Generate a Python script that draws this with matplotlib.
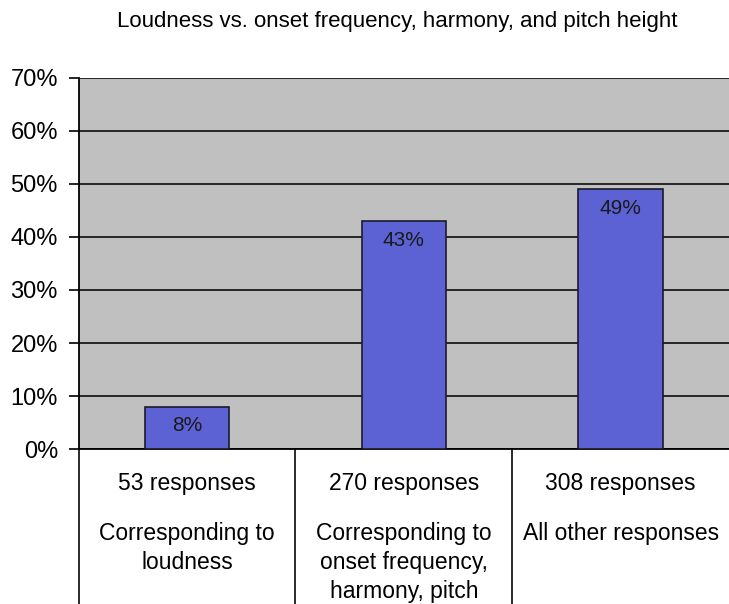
import numpy as np
import matplotlib.pyplot as plt
from matplotlib.ticker import FuncFormatter

plt.rcParams['font.family'] = ['Liberation Sans', 'DejaVu Sans']

title = "Loudness vs. onset frequency, harmony, and pitch height"
counts = ["53 responses", "270 responses", "308 responses"]
descs = ["Corresponding to\nloudness",
         "Corresponding to\nonset frequency,\nharmony, pitch",
         "All other responses"]
values = [8, 43, 49]
labels = ["8%", "43%", "49%"]

fig = plt.figure(figsize=(7.29, 6.04), dpi=100)
ax = fig.add_axes([0.108, 0.2566, 0.892, 0.6143])
ax.set_facecolor('#c0c0c0')

x = np.arange(len(values))
bars = ax.bar(x, values, width=0.39, color='#5c62d4', edgecolor='#1a1a2a', linewidth=1.2, zorder=3)
for b, lab in zip(bars, labels):
    ax.annotate(lab, (b.get_x() + b.get_width() / 2, b.get_height()),
                xytext=(0, -7), textcoords='offset points', ha='center', va='top',
                fontsize=15, color='#1a1a1a', zorder=4)

ax.set_xlim(-0.5, 2.5)
ax.set_ylim(0, 70)
ax.set_yticks(np.arange(0, 71, 10))
ax.yaxis.set_major_formatter(FuncFormatter(lambda v, p: "%d%%" % v))
ax.tick_params(axis='y', labelsize=17, length=7, width=1.2, direction='out', pad=8)
ax.set_xticks([])
ax.grid(axis='y', color='#1a1a1a', linewidth=1.3, zorder=1)
ax.set_axisbelow(True)

for s in ['top', 'right']:
    ax.spines[s].set_visible(False)
ax.spines['left'].set_linewidth(1.3)
ax.spines['bottom'].set_linewidth(1.3)

# category table below the axis
tr = ax.get_xaxis_transform()
for sep in [-0.5, 0.5, 1.5]:
    ax.plot([sep, sep], [0, -0.42], transform=tr, color='#1a1a1a', linewidth=1.3, clip_on=False)
for i in range(len(counts)):
    ax.text(i, -0.092, counts[i], transform=tr, ha='center', va='center', fontsize=16.5)
    ax.text(i, -0.197, descs[i], transform=tr, ha='center', va='top', fontsize=16.5, linespacing=1.33)

fig.text(0.545, 0.965, title, ha='center', va='center', fontsize=16)

fig.savefig('out.png', dpi=100)
